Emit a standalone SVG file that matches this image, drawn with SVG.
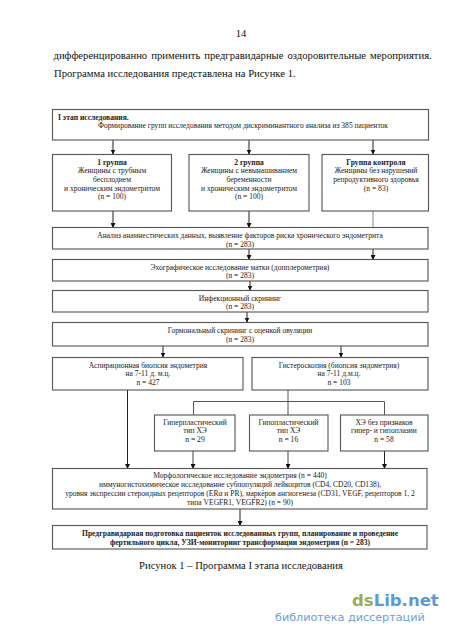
<svg xmlns="http://www.w3.org/2000/svg" width="450" height="637" viewBox="0 0 450 637">
<style>
text{font-family:"Liberation Serif","Times New Roman",serif;fill:#222;text-anchor:middle}
.b{font-size:7.55px}
.h{font-size:7.6px;font-weight:bold}
.p{font-size:10.65px;fill:#111}
rect{fill:#fff;stroke:#555;stroke-width:1.1}
.c{fill:none;stroke:#222;stroke-width:1}
.g{fill:none;stroke:#888;stroke-width:1}
</style>
<defs><marker id="a" markerUnits="userSpaceOnUse" markerWidth="5" markerHeight="5" refX="4.5" refY="2.5" orient="auto"><path d="M0 0L5 2.5L0 5z" fill="#111"/></marker></defs>
<rect width="450" height="637" style="fill:#fff;stroke:none"/>
<text class="p" x="241" y="37">14</text>
<text class="p" x="53.500" y="59" style="text-anchor:start;word-spacing:1.4px">дифференцированно применить предгравидарные оздоровительные мероприятия.</text>
<text class="p" x="54" y="77" style="text-anchor:start">Программа исследования представлена на Рисунке 1.</text>
<g id="connectors">
<path class="c" d="M113 140V154" marker-end="url(#a)"/>
<path class="c" d="M249 140V154" marker-end="url(#a)"/>
<path class="c" d="M373 140V154" marker-end="url(#a)"/>
<path class="c" d="M113 211V227.5" marker-end="url(#a)"/>
<path class="c" d="M249 211V227.5" marker-end="url(#a)"/>
<path class="g" d="M373 211V227.5"/>
<path class="c" d="M249 249V259.5" marker-end="url(#a)"/>
<path class="c" d="M373 249V259.5" marker-end="url(#a)"/>
<path class="c" d="M250 281V290" marker-end="url(#a)"/>
<path class="c" d="M247 312V322" marker-end="url(#a)"/>
<path class="c" d="M163 346V357" marker-end="url(#a)"/>
<path class="c" d="M341 346V357" marker-end="url(#a)"/>
<path class="c" d="M127.500 390V468.500" marker-end="url(#a)"/>
<path class="c" style="stroke:#555" d="M288 390V415M193.500 415V401.500H384.500V415"/>
<path class="c" style="stroke:#444" d="M193 451V468.500" marker-end="url(#a)"/>
<path class="c" style="stroke:#444" d="M288 451V468.500" marker-end="url(#a)"/>
<path class="c" d="M384.500 451V468.500" marker-end="url(#a)"/>
<path class="c" d="M240 509V525.500" marker-end="url(#a)"/>
</g>
<g id="stage"><rect x="52.500" y="109.500" width="376" height="30.500"/><text class="h" x="58" y="119.500" style="text-anchor:start">I этап исследования.</text><text class="b" x="243" y="128">Формирование групп исследования методом дискриминантного анализа из 385 пациенток</text></g>
<g id="group1"><rect x="52.500" y="154.500" width="119" height="56.500"/><text class="h" x="112" y="164.500">1 группа</text><text class="b" x="112" y="173">Женщины с трубным</text><text class="b" x="112" y="181.500">бесплодием</text><text class="b" x="112" y="190.500">и хроническим эндометритом</text><text class="b" x="112" y="199">(n = 100)</text></g>
<g id="group2"><rect x="189" y="154.500" width="120" height="56.500"/><text class="h" x="249" y="164.500">2 группа</text><text class="b" x="249" y="173">Женщины с невынашиванием</text><text class="b" x="249" y="181.500">беременности</text><text class="b" x="249" y="190.500">и хроническим эндометритом</text><text class="b" x="249" y="199">(n = 100)</text></g>
<g id="control"><rect x="322" y="154.500" width="106.500" height="56.500"/><text class="h" x="376" y="164.500">Группа контроля</text><text class="b" x="376" y="173">Женщины без нарушений</text><text class="b" x="376" y="181.500">репродуктивного здоровья</text><text class="b" x="376" y="190.500">(n = 83)</text></g>
<g id="anamnesis"><rect x="52.500" y="227.500" width="375.500" height="21.500"/><text class="b" x="240" y="238">Анализ анамнестических данных, выявление факторов риска хронического эндометрита</text><text class="b" x="240" y="246.500">(n = 283)</text></g>
<g id="echo"><rect x="52.500" y="259.500" width="375.500" height="21.500"/><text class="b" x="240" y="269.500">Эхографическое исследование матки (допплерометрия)</text><text class="b" x="240" y="278">(n = 283)</text></g>
<g id="infection"><rect x="52.500" y="290.500" width="375.500" height="21.500"/><text class="b" x="240" y="300.500">Инфекционный скрининг</text><text class="b" x="240" y="309">(n = 283)</text></g>
<g id="hormone"><rect x="52.500" y="322.500" width="375.500" height="23.500"/><text class="b" x="240" y="333">Гормональный скрининг с оценкой овуляции</text><text class="b" x="240" y="341.500">(n = 283)</text></g>
<g id="aspiration"><rect x="52.500" y="357.500" width="190.500" height="32.500"/><text class="b" x="148" y="367.500">Аспирационная биопсия эндометрия</text><text class="b" x="148" y="376">на 7-11 д. м.ц.</text><text class="b" x="148" y="385">n = 427</text></g>
<g id="hysteroscopy"><rect x="252" y="357.500" width="176" height="32.500"/><text class="b" x="339" y="367.500">Гистероскопия (биопсия эндометрия)</text><text class="b" x="339" y="376">на 7-11 д.м.ц.</text><text class="b" x="339" y="385">n = 103</text></g>
<g id="hyper"><rect x="154.500" y="415" width="80.500" height="36"/><text class="b" x="195" y="424.500">Гиперпластический</text><text class="b" x="195" y="433">тип ХЭ</text><text class="b" x="195" y="442">n = 29</text></g>
<g id="hypo"><rect x="249.500" y="415" width="78.500" height="36"/><text class="b" x="288.500" y="424.500">Гипопластический</text><text class="b" x="288.500" y="433">тип ХЭ</text><text class="b" x="288.500" y="442">n = 16</text></g>
<g id="none"><rect x="340.500" y="415" width="87.500" height="36"/><text class="b" x="384" y="424.500">ХЭ без признаков</text><text class="b" x="384" y="433">гипер- и гипоплазии</text><text class="b" x="384" y="442">n = 58</text></g>
<g id="morphology"><rect x="52.500" y="468.500" width="374.500" height="40.500"/><text class="b" x="240" y="478">Морфологическое исследование эндометрия  (n = 440)</text><text class="b" x="240" y="487">иммуногистохимическое исследование субпопуляций лейкоцитов (CD4, CD20, CD138),</text><text class="b" x="240" y="496">уровня экспрессии стероидных рецепторов (ERα и PR), маркёров ангиогенеза (CD31, VEGF, рецепторов 1, 2</text><text class="b" x="240" y="504.500">типа VEGFR1, VEGFR2) (n = 90)</text></g>
<g id="final"><rect x="52.500" y="525.500" width="374.500" height="23.500"/><text class="h" x="240" y="536">Предгравидарная подготовка пациенток исследованных групп, планирование и проведение</text><text class="h" x="240" y="545">фертильного цикла, УЗИ-мониторинг трансформации эндометрия (n = 283)</text></g>
<text x="241" y="569" style="font-size:10.600px;fill:#111">Рисунок 1 – Программа I этапа исследования</text>
<text x="352" y="605.500" style="font-family:'DejaVu Sans',sans-serif;font-size:16.500px;font-weight:bold;text-anchor:start;fill:#5b9bd5"><tspan fill="#9aae5a">ds</tspan>Lib.net</text>
<text x="275" y="621" style="font-family:'DejaVu Sans',sans-serif;font-size:11.200px;text-anchor:start;fill:#6ba3d6">библиотека диссертаций</text>
</svg>
